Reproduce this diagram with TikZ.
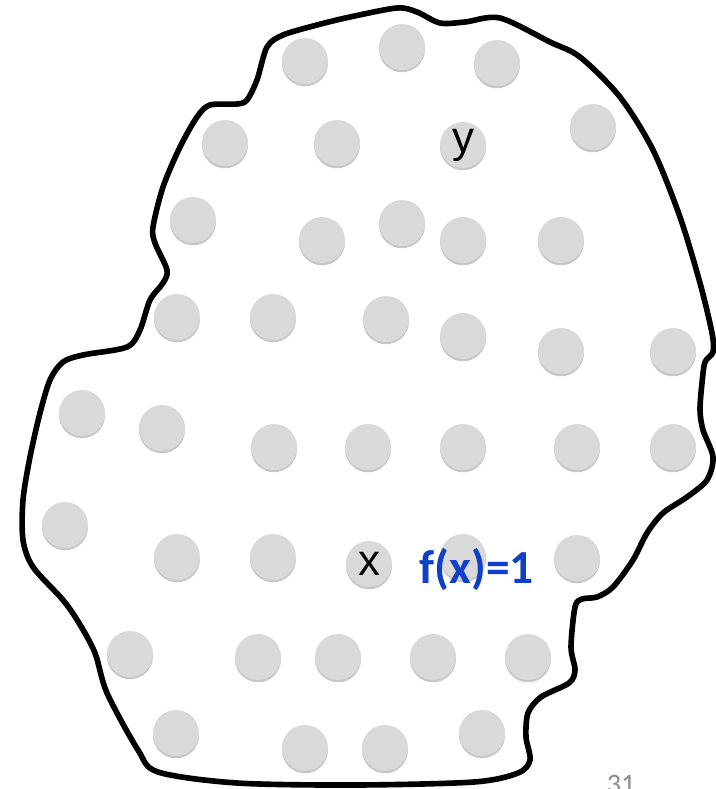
\documentclass[tikz,border=0pt]{standalone}
\usepackage{fontspec}
\setmainfont{Liberation Sans}
\newfontfamily\calibri{Carlito}
\usetikzlibrary{shadows}
\definecolor{dotgray}{HTML}{D9D9D9}
\definecolor{fblue}{HTML}{1040C8}
\definecolor{pagegray}{HTML}{8C8C8C}

\begin{document}
\begin{tikzpicture}[x=0.2mm,y=-0.2mm,
dot/.style={circle,fill=dotgray,inner sep=0pt,minimum size=9.2mm,
drop shadow={shadow xshift=0pt,shadow yshift=-1.3pt,fill=black,opacity=0.22}},
lbl/.style={font=\fontsize{25}{25}\selectfont}]
\useasboundingbox (0,0) rectangle (716,789);
\clip (0,0) rectangle (716,789);
% region boundary
\draw[line width=3.2pt,line join=round,line cap=round] plot[smooth cycle,tension=0.5] coordinates {
(267,47) (283,35) (317,25) (350,17) (397,8) (417,12) (440,23) (465,22) (500,18)
(550,42) (580,57) (620,97) (653,150) (680,217) (700,283) (712,333) (713,352)
(705,362) (702,383) (700,410) (703,430) (713,457) (707,480) (687,497) (663,513)
(647,533) (633,560) (613,587) (597,597) (582,599) (575,607) (571,647) (575,670)
(569,683) (541,697) (528,713) (526,737) (530,760) (518,773) (474,782) (356,785)
(237,783) (158,772) (138,750) (107,693) (95,653) (79,623) (63,600) (33,567)
(23,540) (23,500) (30,457) (40,413) (50,380) (63,362) (83,355) (127,347)
(140,330) (150,300) (163,283) (167,270) (155,243) (153,227) (163,187) (180,147)
(197,117) (210,105) (237,104) (247,100) (257,80)};
% points
\foreach \px/\py [count=\i] in {305/61,402/47,497/63,
225/143,337/143,593/127,
193/220,322/240,402/223,463/240,561/240,
177/317,273/317,386/319,463/336,561/351,673/351,
82/413,162/428,274/447,368/447,463/447,577/447,673/447,
65/525,177/557,273/557,463/557,577/558,
130/654,258/657,338/657,433/657,528/657,
176/733,305/748,385/748,482/733}
  \node[dot] (d\i) at (\px,\py) {};
\node[dot,lbl] (y) at (463,145) {y};
\node[dot,lbl] (x) at (369,564) {x};
\node[anchor=base,text=fblue,font=\calibri\bfseries\fontsize{27}{27}\selectfont] (fx) at (477,583) {f(x)=1};
\node[anchor=base,text=pagegray,font=\calibri\fontsize{16}{16}\selectfont] (page) at (621,793) {31};
\end{tikzpicture}
\end{document}
